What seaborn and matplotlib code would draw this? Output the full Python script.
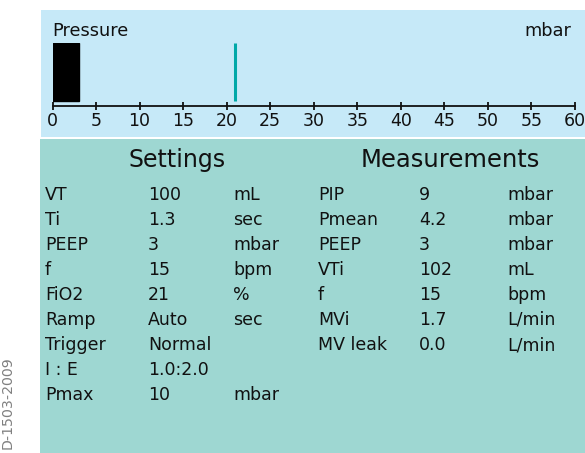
import matplotlib
matplotlib.use("Agg")
import matplotlib.pyplot as plt
from matplotlib.patches import Rectangle
import seaborn as sns
import pandas as pd

# data
pressure_now = 3
pressure_limit = 21
axis_ticks = list(range(0, 65, 5))

settings_labels = ["VT", "Ti", "PEEP", "f", "FiO2", "Ramp", "Trigger", "I : E", "Pmax"]
settings_values = ["100", "1.3", "3", "15", "21", "Auto", "Normal", "1.0:2.0", "10"]
settings_units = ["mL", "sec", "mbar", "bpm", "%", "sec", "", "", "mbar"]

meas_labels = ["PIP", "Pmean", "PEEP", "VTi", "f", "MVi", "MV leak"]
meas_values = ["9", "4.2", "3", "102", "15", "1.7", "0.0"]
meas_units = ["mbar", "mbar", "mbar", "mL", "bpm", "L/min", "L/min"]

W, H = 585, 453
sns.set_theme(style="white")
plt.rcParams["font.family"] = ["DejaVu Sans"]

fig = plt.figure(figsize=(W / 100, H / 100), dpi=100)


def fx(x):
    return x / W


def fy(y):
    return 1 - y / H


blue = "#c6e9f8"
teal = "#9ed7d2"
ink = "#111111"

# panels (behind the axes)
fig.patches.append(Rectangle((fx(41), fy(137)), fx(585 - 41), (137 - 10) / H,
                             transform=fig.transFigure, facecolor=blue, edgecolor="none", zorder=-2))
fig.patches.append(Rectangle((fx(40), 0), fx(585 - 40), (H - 139) / H,
                             transform=fig.transFigure, facecolor=teal, edgecolor="none", zorder=-2))

# pressure bar
ax = fig.add_axes([fx(52.5), fy(105.5), fx(575 - 52.5), (105.5 - 43.3) / H])
ax.patch.set_alpha(0)
df = pd.DataFrame({"value": [pressure_now], "name": ["Pressure"]})
sns.barplot(data=df, x="value", y="name", orient="h", color="black", width=1.0,
            saturation=1, edgecolor="black", ax=ax)
ax.vlines(pressure_limit, -0.5, 0.5, color="#00a8a8", lw=2.2)
ax.set_xlim(0, 60)
ax.set_ylim(0.57, -0.5)
ax.set_xticks(axis_ticks)
ax.set_xticklabels([str(t) for t in axis_ticks], fontsize=12.5, color=ink)
ax.set_yticks([])
ax.set_xlabel("")
ax.set_ylabel("")
for s in ["top", "left", "right"]:
    ax.spines[s].set_visible(False)
ax.spines["bottom"].set_color(ink)
ax.spines["bottom"].set_linewidth(1.3)
ax.tick_params(axis="x", bottom=True, direction="inout", length=6, width=1.3,
               color=ink, pad=2)

fig.text(fx(52), fy(31), "Pressure", fontsize=12.8, color=ink, ha="left", va="center")
fig.text(fx(571), fy(31), "mbar", fontsize=12.8, color=ink, ha="right", va="center")

# settings / measurements
fig.text(fx(177), fy(160), "Settings", fontsize=17, color=ink, ha="center", va="center")
fig.text(fx(450), fy(160), "Measurements", fontsize=17.5, color=ink, ha="center", va="center")

for i, (a, b, c) in enumerate(zip(settings_labels, settings_values, settings_units)):
    y = fy(195 + 25 * i)
    fig.text(fx(45), y, a, fontsize=12.5, color=ink, va="center")
    fig.text(fx(148), y, b, fontsize=12.5, color=ink, va="center")
    fig.text(fx(233), y, c, fontsize=12.5, color=ink, va="center")

for i, (a, b, c) in enumerate(zip(meas_labels, meas_values, meas_units)):
    y = fy(195 + 25 * i)
    fig.text(fx(318), y, a, fontsize=12.5, color=ink, va="center")
    fig.text(fx(419), y, b, fontsize=12.5, color=ink, va="center")
    fig.text(fx(507), y, c, fontsize=12.5, color=ink, va="center")

# image id along the left edge
fig.text(fx(8), fy(356), "D-1503-2009", fontsize=10.2, color="#808080",
         rotation=90, ha="center", va="top")

fig.savefig("out.png", dpi=100)
